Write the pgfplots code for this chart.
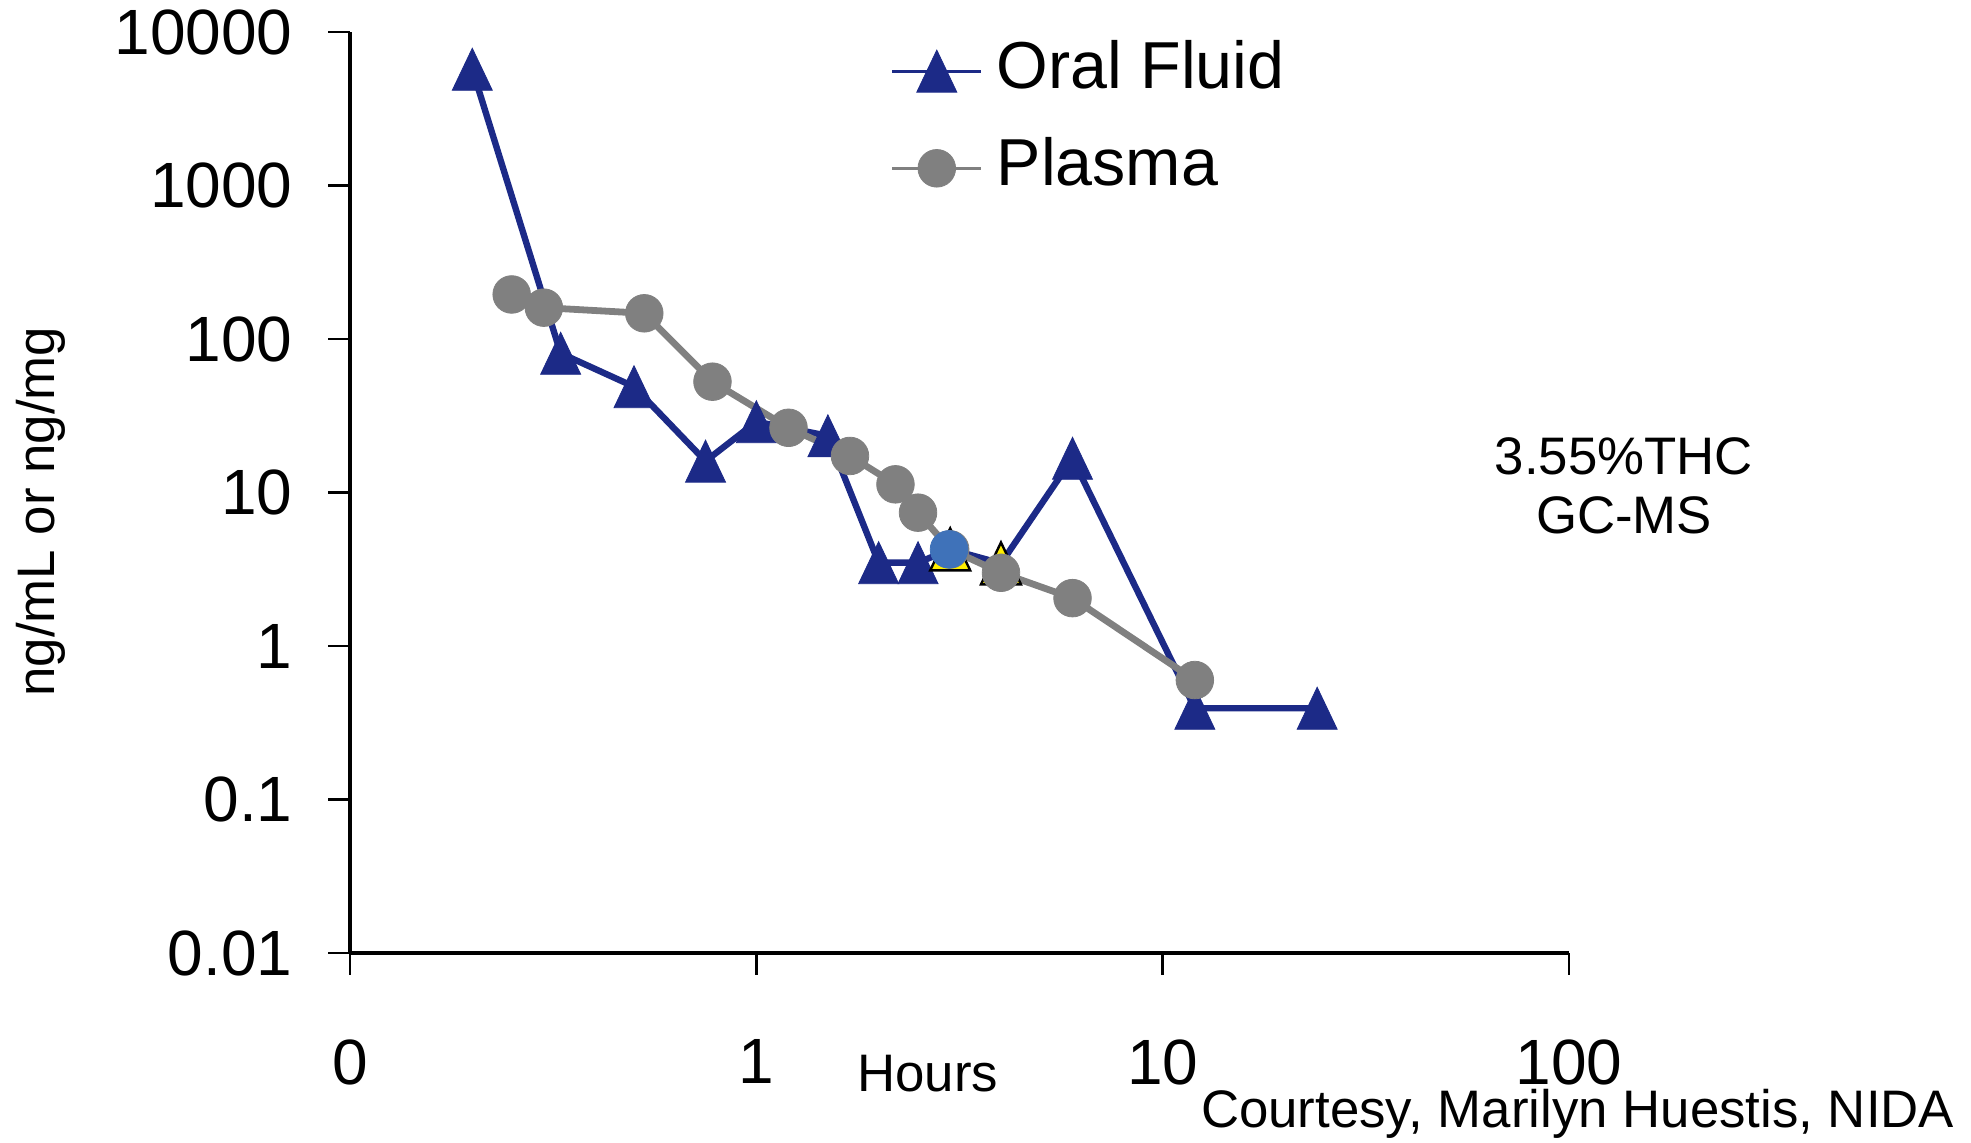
\documentclass[border=0pt]{standalone}
\usepackage{fontspec}
\setmainfont{Liberation Sans}
\usepackage{pgfplots}
\pgfplotsset{compat=1.18}

\definecolor{ofblue}{RGB}{28,42,135}
\definecolor{plgray}{RGB}{128,128,128}
\definecolor{hiblue}{RGB}{63,114,185}
\definecolor{hiyellow}{RGB}{255,238,0}

% triangle centred on its box, a bit taller than equilateral
\pgfdeclareplotmark{xtri}{%
  \pgfpathmoveto{\pgfpoint{0pt}{1.05\pgfplotmarksize}}%
  \pgfpathlineto{\pgfpoint{-\pgfplotmarksize}{-1.05\pgfplotmarksize}}%
  \pgfpathlineto{\pgfpoint{\pgfplotmarksize}{-1.05\pgfplotmarksize}}%
  \pgfpathclose
  \pgfusepathqfillstroke}

\begin{document}
\begin{tikzpicture}
\path[use as bounding box] (-87.5pt,-47.5pt) rectangle (405.25pt,238.25pt);
\begin{axis}[
  at={(0pt,0pt)}, anchor=south west,
  scale only axis, width=304.75pt, height=230.25pt,
  xmode=log, ymode=log,
  xmin=0.1, xmax=100, ymin=0.01, ymax=10000,
  axis x line=bottom, axis y line=left,
  axis line style={-, line width=0.9pt},
  xtick={0.1,1,10,100}, xticklabels={0,1,10,100},
  ytick={0.01,0.1,1,10,100,1000,10000},
  yticklabels={0.01,0.1,1,10,100,1000,10000},
  xminorticks=false, yminorticks=false,
  tick align=outside, major tick length=5.5pt,
  tick style={black, line width=0.6pt},
  ticklabel style={font=\fontsize{16}{19}\selectfont, inner sep=0pt},
  xticklabel style={anchor=north, yshift=-16pt},
  yticklabel style={anchor=east, xshift=-8.7pt},
  /pgf/number format/assume math mode=true,
  clip=false,
  legend style={draw=none, fill=none, at={(0.443,0.9927)}, anchor=north west,
    inner sep=0pt, row sep=8.5pt, column sep=3.5pt,
    font=\fontsize{16.6}{19}\selectfont,
    nodes={inner sep=0pt, text height=12.3pt, text depth=3.5pt}},
  legend cell align=left,
  legend image code/.code={%
    \draw[mark repeat=2, mark phase=2, line width=0.8pt]
      plot coordinates {(0cm,0cm) (0.39cm,0cm) (0.78cm,0cm)};},
]
\addplot[ofblue, line width=1.6pt, mark=xtri, mark size=5pt,
  mark options={solid, fill=ofblue, draw=ofblue, line width=0.2pt}]
  coordinates {(0.2,5717) (0.33,80.7) (0.5,48.9) (0.75,16.0) (1,28.9)
    (1.5,23.4) (2,3.49) (2.5,3.49) (3,4.26) (4,3.45) (6,16.7) (12,0.393) (24,0.393)};
\addlegendentry{Oral Fluid}
\addplot[forget plot, only marks, mark=xtri, mark size=5pt,
  mark options={fill=hiyellow, draw=black, line width=0.6pt}]
  coordinates {(3,4.26) (4,3.45)};
\addplot[plgray, line width=1.7pt, mark=*, mark size=4.7pt,
  mark options={solid, fill=plgray, draw=plgray, line width=0.2pt}]
  coordinates {(0.25,195) (0.3,160) (0.53,147) (0.78,52.7) (1.2,26.4)
    (1.7,17.3) (2.2,11.3) (2.5,7.39) (3,4.26) (4,3.0) (6,2.05) (12,0.60)};
\addlegendentry{Plasma}
\addplot[forget plot, only marks, mark=*, mark size=4.7pt,
  mark options={fill=hiblue, draw=hiblue, line width=0.2pt}]
  coordinates {(2.98,4.26)};
\end{axis}
\node[font=\fontsize{13.2}{15}\selectfont] at (144.4pt,-30.1pt) {Hours};
\node[font=\fontsize{13.2}{15}\selectfont, anchor=base east, inner sep=0pt]
  at (401.25pt,-43.6pt) {Courtesy, Marilyn Huestis, NIDA};
\node[font=\fontsize{13.2}{15}\selectfont, anchor=base, inner sep=0pt]
  at (318.5pt,119.5pt) {3.55\%THC};
\node[font=\fontsize{13.2}{15}\selectfont, anchor=base, inner sep=0pt]
  at (318.5pt,104.75pt) {GC-MS};
\node[font=\fontsize{13.2}{15}\selectfont, rotate=90, inner sep=0pt]
  at (-77.4pt,110.35pt) {ng/mL or ng/mg};
\end{tikzpicture}
\end{document}
